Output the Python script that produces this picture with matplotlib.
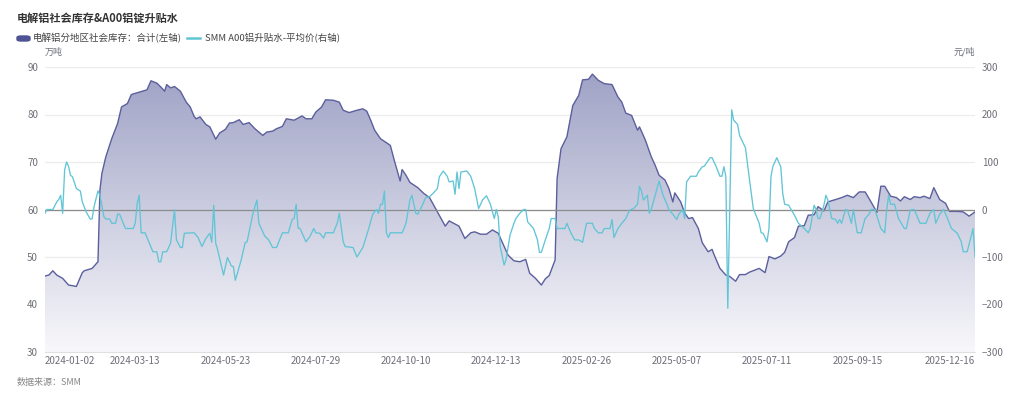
import numpy as np
import matplotlib.pyplot as plt
from matplotlib.patches import FancyBboxPatch
from matplotlib.lines import Line2D

plt.rcParams['font.family'] = ['Noto Sans CJK SC', 'DejaVu Sans']

# trading-day index (0 = 2024-01-02, 474 = 2025-12-16)
n_days = 475
tick_days = [0, 46, 92, 138, 184, 230, 276, 322, 368, 414, 474]
tick_labels = ['2024-01-02', '2024-03-13', '2024-05-23', '2024-07-29', '2024-10-10',
               '2024-12-13', '2025-02-26', '2025-05-07', '2025-07-11', '2025-09-15',
               '2025-12-16']

# 电解铝分地区社会库存：合计 (万吨)
inv_day = [0, 2, 4, 6, 9, 12, 16, 19, 20, 24, 27, 28, 29, 31, 34, 37, 39, 42, 44, 48,
           52, 54, 57, 59, 61, 62, 64, 66, 69, 72, 74, 76, 77, 79, 82, 84, 87, 89, 92, 94,
           96, 99, 101, 104, 107, 111, 113, 116, 118, 121, 123, 127, 131, 133, 136, 138,
           141, 143, 147, 150, 152, 155, 159, 162, 164, 166, 168, 171, 176, 178, 181, 182,
           184, 186, 190, 193, 196, 200, 204, 206, 211, 214, 217, 219, 222, 225, 228, 231,
           236, 239, 242, 245, 247, 250, 253, 255, 257, 260, 261, 263, 266, 269, 272, 274,
           277, 279, 282, 285, 289, 292, 294, 296, 299, 302, 303, 306, 309, 311, 313, 316,
           318, 320, 321, 324, 326, 328, 330, 333, 335, 338, 340, 341, 344, 347, 349, 352,
           354, 357, 359, 364, 367, 369, 372, 375, 377, 379, 382, 384, 387, 389, 392, 394,
           397, 399, 403, 406, 409, 412, 415, 418, 421, 424, 426, 428, 431, 434, 436, 438,
           441, 443, 446, 448, 451, 453, 456, 459, 461, 465, 468, 471, 474]
inv_val = [46.0, 46.2, 47.1, 46.2, 45.5, 44.1, 43.8, 46.7, 47.1, 47.6, 49.0, 64.1, 67.6,
           71.1, 74.9, 78.1, 81.6, 82.3, 84.2, 84.7, 85.2, 87.1, 86.6, 85.8, 84.9, 86.3,
           85.6, 85.9, 84.9, 82.6, 81.6, 79.6, 79.1, 79.5, 77.9, 77.4, 74.8, 76.1, 76.9,
           78.2, 78.3, 78.9, 77.9, 78.3, 77.0, 75.6, 76.3, 76.5, 77.0, 77.5, 79.1, 78.8,
           79.7, 79.1, 79.1, 80.5, 81.6, 83.1, 83.0, 82.6, 80.9, 80.4, 80.9, 81.2, 80.7,
           78.8, 76.7, 74.9, 73.5, 70.4, 66.0, 68.4, 67.2, 65.7, 64.6, 63.4, 62.5, 59.5,
           56.5, 57.6, 56.5, 53.9, 55.1, 55.3, 54.8, 54.8, 55.7, 55.0, 50.4, 49.2, 49.0,
           49.5, 46.6, 45.5, 44.1, 45.4, 46.1, 49.4, 66.5, 72.8, 75.3, 81.9, 84.0, 87.3,
           87.4, 88.5, 87.2, 86.5, 86.3, 83.7, 82.6, 80.3, 79.8, 76.7, 77.4, 74.6, 71.1,
           69.3, 67.2, 66.2, 64.4, 61.6, 63.5, 61.6, 59.3, 58.1, 58.3, 56.0, 53.0, 51.1,
           51.6, 50.5, 47.6, 46.2, 45.9, 44.9, 46.3, 46.3, 46.8, 47.6, 46.7, 50.1, 49.6,
           50.2, 51.0, 53.2, 54.1, 56.5, 56.6, 58.8, 58.9, 60.6, 59.7, 61.6, 62.1, 62.5,
           63.0, 62.5, 63.7, 63.7, 61.6, 59.4, 64.9, 64.9, 62.8, 62.5, 61.8, 62.7, 62.1,
           62.7, 62.5, 62.8, 62.3, 64.6, 62.1, 61.3, 59.6, 59.6, 59.5, 58.6, 59.5]

# SMM A00铝升贴水-平均价 (元/吨)
spread_day = [0, 1, 4, 6, 7, 8, 9, 10, 11, 12, 13, 14, 16, 18, 19, 21, 23, 24, 25, 27,
              28, 30, 31, 33, 34, 36, 37, 38, 41, 45, 46, 47, 48, 49, 51, 55, 57, 58, 59,
              60, 62, 64, 66, 67, 69, 70, 71, 76, 78, 80, 82, 84, 85, 86, 87, 88, 91, 93,
              95, 96, 97, 98, 100, 102, 103, 106, 108, 109, 112, 114, 116, 118, 121, 124,
              126, 127, 128, 129, 130, 133, 135, 137, 138, 140, 142, 143, 147, 149, 150,
              152, 153, 157, 159, 162, 165, 167, 169, 170, 171, 172, 173, 174, 175, 176,
              182, 183, 184, 186, 187, 189, 190, 192, 194, 196, 198, 200, 201, 203, 205,
              206, 208, 209, 210, 211, 212, 215, 217, 219, 221, 223, 225, 227, 229, 230,
              231, 232, 234, 235, 237, 239, 240, 242, 244, 245, 246, 249, 251, 252, 253,
              255, 257, 258, 260, 261, 265, 266, 268, 270, 272, 274, 276, 279, 280, 282,
              284, 285, 288, 289, 290, 292, 294, 296, 298, 300, 302, 303, 304, 305, 307,
              308, 309, 311, 313, 315, 317, 318, 320, 322, 323, 325, 326, 327, 329, 332,
              333, 335, 336, 339, 340, 342, 344, 345, 346, 347, 348, 350, 351, 353, 354,
              357, 359, 361, 364, 365, 366, 368, 369, 370, 371, 373, 375, 376, 377, 379,
              382, 384, 387, 389, 390, 392, 393, 394, 395, 397, 398, 399, 401, 403, 404,
              405, 406, 408, 409, 411, 412, 414, 416, 418, 420, 421, 423, 426, 428, 429,
              430, 431, 433, 435, 438, 439, 441, 443, 446, 449, 451, 453, 454, 456, 458,
              460, 462, 465, 467, 468, 470, 472, 473, 474]
spread_val = [-8, 0, 0, 16, 21, 30, -8, 83, 100, 91, 72, 69, 44, 39, 16, -5, -20, -20, 6,
              39, 30, -15, -20, -20, -29, -29, -10, -10, -40, -40, -29, 13, 30, -49, -49,
              -89, -89, -110, -110, -89, -89, -71, -1, -64, -80, -80, -50, -49, -59, -78,
              -61, -50, -69, 9, -71, -85, -138, -101, -119, -120, -149, -135, -106, -70,
              -68, -8, 20, -29, -56, -64, -80, -80, -49, -49, -21, -19, 11, -39, -40, -68,
              -57, -40, -49, -50, -60, -49, -49, -28, -8, -68, -78, -80, -100, -80, -40,
              -10, 0, -8, 11, 11, 39, -49, -59, -49, -49, -40, -29, 20, 30, -8, -10, 6, 25,
              27, 35, 44, 69, 81, 70, 58, 60, 32, 79, 44, 79, 81, 70, 44, 2, 20, 29, 11,
              -19, 0, -15, -78, -117, -105, -54, -29, -19, -8, 0, 0, -26, -40, -64, -90,
              -90, -64, -40, -19, -19, -40, -40, -29, -49, -64, -64, -69, -29, -29, -40,
              -49, -49, -40, -40, -21, -59, -40, -29, -19, -1, 2, 11, 49, 39, 20, 30, -8,
              0, 30, 60, 30, 11, 0, -10, -21, -10, 0, -19, 58, 70, 70, 79, 90, 91, 109,
              109, 91, 70, 70, 90, 70, -208, 210, 188, 179, 156, 130, 65, 2, -29, -49, -50,
              -68, -40, 69, 91, 109, 90, 34, 11, 9, -12, -29, -40, -49, -40, 9, 0, -19,
              -19, 9, 30, 20, -19, -21, -29, -21, -29, 0, -1, -29, 0, -49, -49, -19, -10,
              0, 0, -40, -49, 0, 30, 11, 11, -19, -40, -40, -1, 0, -29, -29, -8, 0, -29,
              -10, 0, -19, -40, -50, -68, -89, -89, -57, -40, -100]

inv_color = '#5b5f9c'
spread_color = '#62c5d6'
label_color = '#6e7079'

fig = plt.figure(figsize=(10.24, 3.99), dpi=100)
ax = fig.add_axes([45 / 1024, 47 / 399, 930 / 1024, 285 / 399])
ax2 = ax.twinx()

ax.set_xlim(0, n_days - 1)
ax.set_ylim(30, 90)
ax.set_yticks(np.arange(30, 91, 10))
ax2.set_ylim(-300, 300)
ax2.set_yticks(np.arange(-300, 301, 100))

# gradient area under inventory
fill = ax.fill_between(inv_day, inv_val, 30, color='none', lw=0)
top_rgb = np.array([160, 163, 198]) / 255
bot_rgb = np.array([248, 248, 251]) / 255
t = np.linspace(0, 1, 256)[:, None]
grad = (top_rgb * (1 - t) + bot_rgb * t)[:, None, :]
im = ax.imshow(grad, aspect='auto', extent=[0, n_days - 1, 30, max(inv_val)],
               origin='upper', zorder=1, interpolation='bilinear')
im.set_clip_path(fill.get_paths()[0], transform=ax.transData)
ax.plot(inv_day, inv_val, color=inv_color, lw=1.0, zorder=3)

for v in range(40, 91, 10):
    ax.axhline(v, color='#ececec', lw=0.9, zorder=0)

ax2.axhline(0, color='#8c8c8c', lw=0.9, zorder=2)
ax2.plot(spread_day, spread_val, color=spread_color, lw=0.95, zorder=4)

for a in (ax, ax2):
    for s in a.spines.values():
        s.set_visible(False)
    a.tick_params(length=0, labelsize=7, labelcolor=label_color, pad=5)
ax.spines['bottom'].set_visible(True)
ax.spines['bottom'].set_color('#e0e0e0')

ax.set_xticks(tick_days)
ax.set_xticklabels(tick_labels)
xl = ax.get_xticklabels()
xl[0].set_ha('left')
xl[-1].set_ha('right')
ax.tick_params(axis='x', pad=3)

fig.text(45 / 1024, 1 - 52 / 399, '万吨', fontsize=6.5, color=label_color,
         ha='left', va='center')
fig.text(975 / 1024, 1 - 52 / 399, '元/吨', fontsize=6.5, color=label_color,
         ha='right', va='center')

fig.text(17 / 1024, 1 - 18 / 399, '电解铝社会库存&A00铝锭升贴水', fontsize=8,
         fontweight='bold', color='#333333', va='center', ha='left')

# legend
fig.patches.append(FancyBboxPatch((17 / 1024, 1 - 41 / 399), 13 / 1024, 5 / 399,
                                  boxstyle='round,pad=0,rounding_size=0.004',
                                  transform=fig.transFigure, color='#4e5394'))
fig.text(33 / 1024, 1 - 38 / 399, '电解铝分地区社会库存：合计(左轴)', fontsize=6.8,
         color='#444444', va='center', ha='left')
fig.lines.append(Line2D([187 / 1024, 200 / 1024], [1 - 38 / 399] * 2,
                        transform=fig.transFigure, color=spread_color, lw=1.8))
fig.text(205 / 1024, 1 - 38 / 399, 'SMM A00铝升贴水-平均价(右轴)', fontsize=6.8,
         color='#444444', va='center', ha='left')

fig.text(17 / 1024, 1 - 382 / 399, '数据来源：SMM', fontsize=6.5, color='#888888',
         va='center', ha='left', style='italic')

fig.savefig('out.png', dpi=100)
